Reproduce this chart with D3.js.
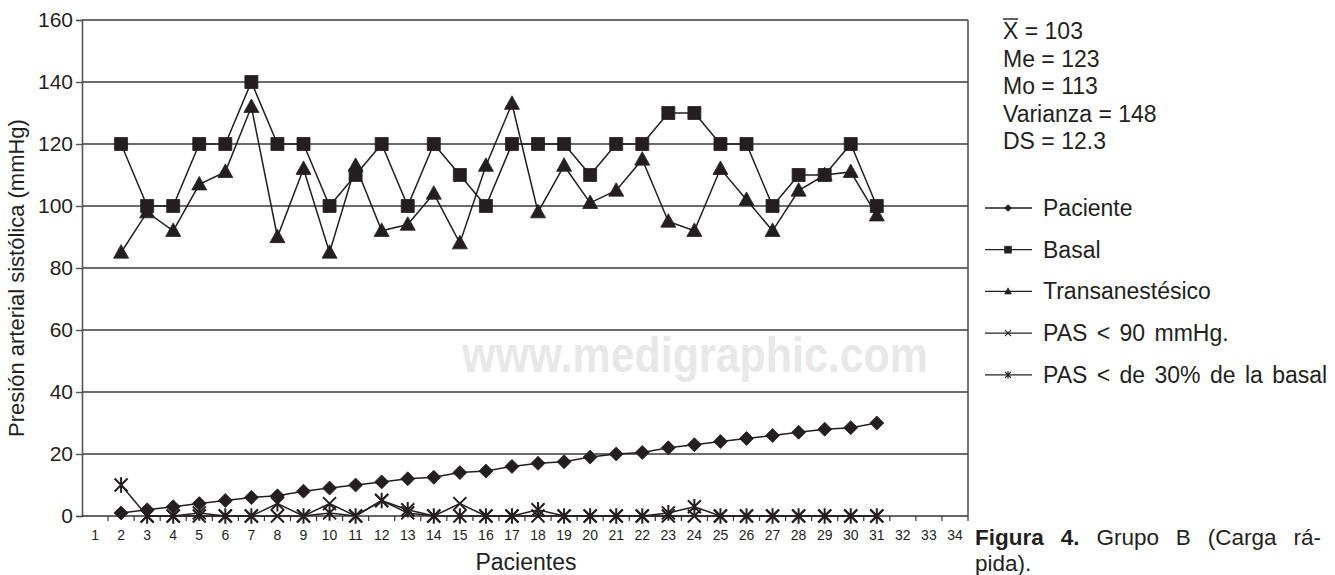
<!DOCTYPE html>
<html>
<head>
<meta charset="utf-8">
<script src="https://cdn.jsdelivr.net/npm/d3@7"></script>
<style>
  html, body { margin: 0; padding: 0; background: #fff; }
  svg { display: block; font-family: "Liberation Sans", Arial, sans-serif; }
</style>
</head>
<body>
<svg id="chart" width="1335" height="575"></svg>
<script>
// Patient slots on the x axis
const categories = ["1","2","3","4","5","6","7","8","9","10","11","12","13","14","15","16","17",
  "18","19","20","21","22","23","24","25","26","27","28","29","30","31","32","33","34"];
const yTicks = [0, 20, 40, 60, 80, 100, 120, 140, 160];

// Series values, one per patient slot (null = no point)
const paciente = [null, 1, 2, 3, 4, 5, 6, 6.5, 8, 9, 10, 11, 12, 12.5, 14, 14.5, 16, 17, 17.5, 19,
  20, 20.5, 22, 23, 24, 25, 26, 27, 28, 28.5, 30, null, null, null];
const basal = [null, 120, 100, 100, 120, 120, 140, 120, 120, 100, 110, 120, 100, 120, 110, 100, 120,
  120, 120, 110, 120, 120, 130, 130, 120, 120, 100, 110, 110, 120, 100, null, null, null];
const transanestesico = [null, 85, 98, 92, 107, 111, 132, 90, 112, 85, 113, 92, 94, 104, 88, 113, 133,
  98, 113, 101, 105, 115, 95, 92, 112, 102, 92, 105, 110, 111, 97, null, null, null];
const pas90 = [null, null, 0, 0, 0, 0, 0, 0, 0, 4, 0, 5, 1, 0, 4, 0, 0,
  0, 0, 0, 0, 0, 0, 0, 0, 0, 0, 0, 0, 0, 0, null, null, null];
const pas30 = [null, 10, 0, 0, 1, 0, 0, 4, 0, 1, 0, 5, 2, 0, 0, 0, 0,
  2, 0, 0, 0, 0, 1, 3, 0, 0, 0, 0, 0, 0, 0, null, null, null];

const seriesNames = ["Paciente", "Basal", "Transanestésico", "PAS < 90 mmHg.", "PAS < de 30% de la basal"];
const statsLines = ["X = 103", "Me = 123", "Mo = 113", "Varianza = 148", "DS = 12.3"];

const ink = "#231f20";
const svg = d3.select("#chart");

const plot = { left: 82, right: 968, top: 20, bottom: 516 };

const x = d3.scaleBand().domain(categories).range([plot.left, plot.right]).padding(0);
const y = d3.scaleLinear().domain([0, 160]).range([plot.bottom, plot.top]);

// Watermark
svg.append("text")
  .attr("x", 695).attr("y", 372)
  .attr("text-anchor", "middle")
  .attr("font-size", 50).attr("font-weight", "bold")
  .attr("fill", "#e8e8e8")
  .attr("textLength", 466).attr("lengthAdjust", "spacingAndGlyphs")
  .text("www.medigraphic.com");

// Horizontal gridlines
svg.append("g").selectAll("line")
  .data(yTicks.filter(d => d > 0))
  .join("line")
  .attr("x1", plot.left).attr("x2", plot.right)
  .attr("y1", d => y(d)).attr("y2", d => y(d))
  .attr("stroke", "#3a3a3a").attr("stroke-width", 1.4);

// Right frame
svg.append("line")
  .attr("x1", plot.right).attr("x2", plot.right)
  .attr("y1", plot.top).attr("y2", plot.bottom)
  .attr("stroke", "#555").attr("stroke-width", 1.6);

// Y axis
const yAxis = d3.axisLeft(y).tickValues(yTicks).tickSize(6).tickPadding(3);
const gy = svg.append("g").attr("transform", `translate(${plot.left},0)`).call(yAxis);
gy.select(".domain").attr("stroke", "#555").attr("stroke-width", 1.6);
gy.selectAll(".tick line").attr("stroke", "#555").attr("stroke-width", 1.4);
gy.selectAll(".tick text").attr("font-size", 21).attr("fill", ink)
  .attr("font-family", "Liberation Sans, Arial, sans-serif");

// X axis: ticks between categories (band edges), labels at band centres
const gx = svg.append("g").attr("transform", `translate(0,${plot.bottom})`);
gx.append("line")
  .attr("x1", plot.left).attr("x2", plot.right)
  .attr("stroke", "#333").attr("stroke-width", 1.6);
gx.selectAll("line.tk")
  .data(categories)
  .join("line").attr("class", "tk")
  .attr("x1", d => x(d) + x.bandwidth()).attr("x2", d => x(d) + x.bandwidth())
  .attr("y1", 0).attr("y2", 5)
  .attr("stroke", "#333").attr("stroke-width", 1.2);
gx.selectAll("text")
  .data(categories)
  .join("text")
  .attr("x", d => x(d) + x.bandwidth() / 2)
  .attr("y", 24)
  .attr("text-anchor", "middle")
  .attr("font-size", 14).attr("fill", ink)
  .text(d => d);

// Axis titles
svg.append("text")
  .attr("transform", `translate(24,${(plot.top + plot.bottom) / 2 + 10}) rotate(-90)`)
  .attr("text-anchor", "middle")
  .attr("font-size", 22).attr("fill", ink)
  .text("Presión arterial sistólica (mmHg)");
svg.append("text")
  .attr("x", 526).attr("y", 570)
  .attr("text-anchor", "middle")
  .attr("font-size", 23).attr("fill", ink)
  .text("Pacientes");

// Marker shapes
const symbolPaths = {
  diamond: s => `M0,${-s}L${s},0L0,${s}L${-s},0Z`,
  square: s => `M${-s},${-s}H${s}V${s}H${-s}Z`,
  triangle: s => `M0,${-s * 1.05}L${s},${s * 0.75}L${-s},${s * 0.75}Z`,
  cross: s => `M${-s},${-s}L${s},${s}M${s},${-s}L${-s},${s}`,
  star: s => `M${-s},${-s}L${s},${s}M${s},${-s}L${-s},${s}M0,${-s * 1.2}V${s * 1.2}`
};

const series = [
  { name: seriesNames[0], values: paciente, shape: "diamond", size: 7, filled: true },
  { name: seriesNames[1], values: basal, shape: "square", size: 6.5, filled: true },
  { name: seriesNames[2], values: transanestesico, shape: "triangle", size: 7.5, filled: true },
  { name: seriesNames[3], values: pas90, shape: "cross", size: 6.5, filled: false },
  { name: seriesNames[4], values: pas30, shape: "star", size: 6.5, filled: false }
];

const line = d3.line()
  .defined(d => d.v !== null)
  .x(d => x(d.c) + x.bandwidth() / 2)
  .y(d => y(d.v));

const drawOrder = [4, 3, 0, 2, 1];
drawOrder.forEach(i => {
  const s = series[i];
  const pts = categories.map((c, j) => ({ c, v: s.values[j] }));
  const g = svg.append("g");
  g.append("path")
    .attr("d", line(pts))
    .attr("fill", "none").attr("stroke", ink).attr("stroke-width", 1.5);
  g.selectAll("path.mk")
    .data(pts.filter(d => d.v !== null))
    .join("path").attr("class", "mk")
    .attr("transform", d => `translate(${x(d.c) + x.bandwidth() / 2},${y(d.v)})`)
    .attr("d", symbolPaths[s.shape](s.size))
    .attr("fill", s.filled ? ink : "none")
    .attr("stroke", ink)
    .attr("stroke-width", s.filled ? 0.8 : 2);
});

// Summary statistics (first line carries the mean's overbar)
const stats = svg.append("g").attr("font-size", 23).attr("fill", ink);
statsLines.forEach((t, i) => {
  stats.append("text")
    .attr("x", 1003)
    .attr("y", 39 + i * 27.5)
    .attr("xml:space", "preserve")
    .text(t);
});
stats.append("line")
  .attr("x1", 1003).attr("x2", 1018)
  .attr("y1", 19).attr("y2", 19)
  .attr("stroke", ink).attr("stroke-width", 1.4);

// Legend
const legend = svg.append("g");
series.forEach((s, i) => {
  const cy = 208 + i * 41.7;
  const row = legend.append("g");
  row.append("line")
    .attr("x1", 985).attr("x2", 1032).attr("y1", cy).attr("y2", cy)
    .attr("stroke", ink).attr("stroke-width", 1.3);
  row.append("path")
    .attr("transform", `translate(1008,${cy})`)
    .attr("d", symbolPaths[s.shape](s.filled ? 3.5 : 3))
    .attr("fill", s.filled ? ink : "none")
    .attr("stroke", ink).attr("stroke-width", s.filled ? 0.5 : 1.2);
  row.append("text")
    .attr("x", 1043).attr("y", cy + 8)
    .attr("font-size", 23).attr("fill", ink)
    .attr("word-spacing", 3)
    .text(s.name);
});

// Caption: first line justified to the column width by widening word gaps
const capWidth = 346;
const cap = svg.append("text").attr("x", 975).attr("y", 545)
  .attr("font-size", 22.5).attr("fill", ink);
cap.append("tspan").attr("font-weight", "bold").text("Figura 4.");
cap.append("tspan").text(" Grupo B (Carga rá-");
const natural = cap.node().getComputedTextLength();
const gaps = 5;
cap.attr("word-spacing", Math.max(0, (capWidth - natural) / gaps));
svg.append("text").attr("x", 975).attr("y", 571)
  .attr("font-size", 22.5).attr("fill", ink).text("pida).");
</script>
</body>
</html>
